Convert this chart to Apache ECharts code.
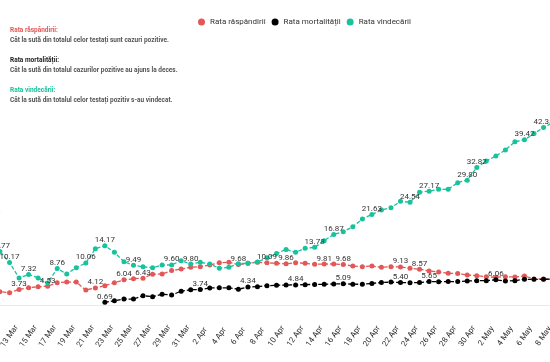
<!DOCTYPE html>
<html>
<head>
<meta charset="utf-8">
<script src="https://cdn.jsdelivr.net/npm/echarts@6/dist/echarts.min.js"></script>
<style>
html,body{margin:0;padding:0;background:#fff;}
#c{width:550px;height:362px;}
</style>
</head>
<body>
<div id="c"></div>
<script>
var dates = ['11 Mar','12 Mar','13 Mar','14 Mar','15 Mar','16 Mar','17 Mar','18 Mar','19 Mar','20 Mar',
'21 Mar','22 Mar','23 Mar','24 Mar','25 Mar','26 Mar','27 Mar','28 Mar','29 Mar','30 Mar',
'31 Mar','1 Apr','2 Apr','3 Apr','4 Apr','5 Apr','6 Apr','7 Apr','8 Apr','9 Apr',
'10 Apr','11 Apr','12 Apr','13 Apr','14 Apr','15 Apr','16 Apr','17 Apr','18 Apr','19 Apr',
'20 Apr','21 Apr','22 Apr','23 Apr','24 Apr','25 Apr','26 Apr','27 Apr','28 Apr','29 Apr',
'30 Apr','1 May','2 May','3 May','4 May','5 May','6 May','7 May','8 May','9 May'];

var rataRaspandirii = [3.40,3.22,2.98,3.73,4.15,4.40,4.53,5.36,5.53,5.50,
3.62,4.12,4.65,5.36,6.04,6.31,6.43,7.40,7.45,8.25,
8.62,9.03,9.17,9.58,10.13,10.22,9.68,9.98,10.22,10.09,
9.98,9.86,10.13,9.98,9.75,9.81,9.82,9.68,9.34,9.17,
9.34,9.03,9.17,9.13,8.79,8.57,8.15,7.91,7.60,7.55,
7.20,7.03,6.79,6.65,6.79,6.72,6.96,6.24,6.24,6.20];

var rataMortalitatii = [null,null,null,null,null,null,null,null,null,null,
null,null,0.69,1.07,1.48,1.45,2.26,2.03,2.60,2.43,
3.35,3.70,3.74,4.10,4.15,4.13,3.80,4.34,4.42,4.65,
4.75,4.80,4.84,4.90,4.95,4.97,5.05,5.09,5.02,4.98,
5.20,5.40,5.50,5.40,5.35,5.38,5.65,5.60,5.62,5.62,
5.77,5.84,5.84,6.06,5.77,5.84,6.17,6.17,6.17,6.20];

var rataVindecarii = [20.90,12.77,10.17,6.48,7.32,6.50,5.30,8.76,7.43,8.95,
10.06,13.45,14.17,12.62,10.36,9.49,9.15,8.92,9.55,9.60,
10.60,9.80,10.22,9.82,8.80,9.03,9.90,10.00,10.30,11.30,
12.30,13.30,12.60,13.55,13.78,15.37,16.87,17.50,18.70,20.54,
21.63,22.68,23.23,24.75,24.54,26.90,27.17,27.60,27.62,29.20,
29.80,32.82,34.36,35.55,36.98,38.96,39.42,40.90,42.35,43.50];

// indices of points whose value label is shown
var labelsRaspandirii = [3,6,11,14,16,26,29,31,35,37,43,45];
var labelsMortalitatii = [12,22,27,32,37,43,46,53];
var labelsVindecarii = [0,1,2,4,7,10,12,15,19,21,34,36,40,44,46,50,51,56,58];

var RED = '#e35757', BLACK = '#000000', GREEN = '#17c29c';
var FONT = 'Roboto';

function build(values, idx) {
  return values.map(function (v, i) {
    if (v === null) return null;
    return idx.indexOf(i) >= 0 ? { value: v, label: { show: true } } : v;
  });
}

function lineSeries(name, color, values, idx) {
  return {
    name: name,
    type: 'line',
    data: build(values, idx),
    symbol: 'circle',
    symbolSize: 5,
    clip: false,
    itemStyle: { color: color },
    lineStyle: { color: color, width: 1.3, type: [4, 2] },
    label: {
      show: false,
      position: 'top',
      distance: -1,
      color: '#333',
      fontFamily: FONT,
      fontSize: 8,
      formatter: function (p) { return Number(p.value).toFixed(2); }
    },
    emphasis: { disabled: true }
  };
}

var chart = echarts.init(document.getElementById('c'), null, { renderer: 'canvas' });
chart.setOption({
  animation: false,
  backgroundColor: '#fff',
  textStyle: { fontFamily: FONT },
  title: {
    left: 5,
    top: 20,
    text: '{r|Rata răspândirii:}\n{d|Cât la sută din totalul celor testați sunt cazuri pozitive.}\n{e| }\n{k|Rata mortalității:}\n{d|Cât la sută din totalul cazurilor pozitive au ajuns la deces.}\n{e| }\n{g|Rata vindecării:}\n{d|Cât la sută din totalul celor testați pozitiv s-au vindecat.}',
    textStyle: {
      fontFamily: FONT,
      fontSize: 6.5,
      lineHeight: 10,
      rich: {
        r: { color: RED, fontSize: 6.5, lineHeight: 10, fontWeight: 'bold', fontFamily: FONT },
        k: { color: '#222', fontSize: 6.5, lineHeight: 10, fontWeight: 'bold', fontFamily: FONT },
        g: { color: GREEN, fontSize: 6.5, lineHeight: 10, fontWeight: 'bold', fontFamily: FONT },
        d: { color: '#555', fontSize: 6.5, lineHeight: 10, fontFamily: FONT },
        e: { fontSize: 6.5, lineHeight: 10 }
      }
    }
  },
  legend: {
    left: 193,
    top: 13,
    icon: 'circle',
    itemWidth: 7,
    itemHeight: 7,
    itemGap: 6,
    textStyle: { fontFamily: FONT, fontSize: 8, color: '#333' },
    data: ['Rata răspândirii', 'Rata mortalității', 'Rata vindecării']
  },
  grid: { left: -9.54, top: 95.35, width: 562.6, height: 209.85, containLabel: false, outerBoundsMode: 'none' },
  xAxis: {
    type: 'category',
    boundaryGap: false,
    data: dates,
    axisLine: { show: true, lineStyle: { color: '#eaeaea', width: 1 } },
    axisTick: { show: false },
    splitLine: { show: false },
    axisLabel: {
      interval: 1,
      rotate: 55,
      margin: 31,
      align: 'center',
      verticalAlign: 'middle',
      color: '#333',
      fontFamily: FONT,
      fontSize: 8
    }
  },
  yAxis: {
    type: 'value',
    min: 0,
    max: 50,
    show: false,
    splitLine: { show: false }
  },
  series: [
    lineSeries('Rata răspândirii', RED, rataRaspandirii, labelsRaspandirii),
    lineSeries('Rata mortalității', BLACK, rataMortalitatii, labelsMortalitatii),
    lineSeries('Rata vindecării', GREEN, rataVindecarii, labelsVindecarii)
  ]
});
</script>
</body>
</html>
